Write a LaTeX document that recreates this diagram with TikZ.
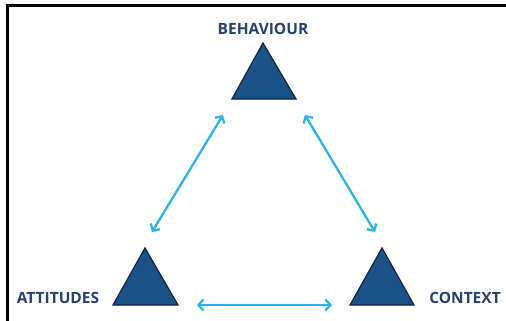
\documentclass[tikz,border=0pt]{standalone}
\usepackage{fontspec}
\setmainfont{Open Sans}
\usetikzlibrary{arrows.meta}
\definecolor{trifill}{RGB}{26,82,136}
\definecolor{triline}{RGB}{14,36,66}
\definecolor{txtcol}{RGB}{40,64,110}
\definecolor{arrcol}{RGB}{45,180,226}
\begin{document}
\begin{tikzpicture}[x=1pt,y=-1pt,
  tri/.style={fill=trifill,draw=triline,line width=1.2pt,line join=miter},
  lbl/.style={text=txtcol,font=\fontsize{15.5}{16}\selectfont\bfseries,inner sep=0pt},
  link/.style={draw=arrcol,line width=2.3pt,{Straight Barb[length=5pt,width=11pt]}-{Straight Barb[length=5pt,width=11pt]}}]
\useasboundingbox (0,0) rectangle (506,321);
\fill[white] (0,0) rectangle (506,321);
\draw[line width=3pt] (7,330) -- (7,6) -- (515,6);
% triangles
\draw[tri] (263,43) -- (296,99) -- (232,99) -- cycle;
\draw[tri] (145,248) -- (178,305) -- (113,305) -- cycle;
\draw[tri] (382,248) -- (414,305) -- (350,305) -- cycle;
% labels
\node[lbl] (beh) at (263,29) {BEHAVIOUR};
\node[lbl] (att) at (58,298) {ATTITUDES};
\node[lbl] (ctx) at (465,298) {CONTEXT};
% arrow ends
\coordinate (a1) at (152,232);
\coordinate (b1) at (223,115);
\coordinate (b2) at (305,115);
\coordinate (c2) at (375,232);
\coordinate (a3) at (197,305);
\coordinate (c3) at (332,305);
\draw[link] (a1) -- (b1);
\draw[link] (b2) -- (c2);
\draw[link] (a3) -- (c3);
\end{tikzpicture}
\end{document}
